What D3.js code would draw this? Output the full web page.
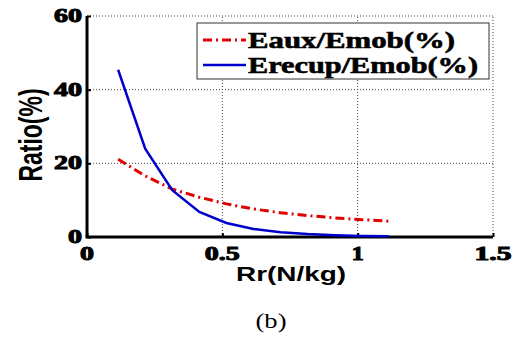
<!DOCTYPE html>
<html>
<head>
<meta charset="utf-8">
<script src="https://cdn.jsdelivr.net/npm/d3@7"></script>
<style>
  body { margin: 0; background: #fff; }
  svg { display: block; }
  .num { font-family: "Liberation Serif", "Times New Roman", serif; font-weight: bold; fill: #000; stroke: #000; stroke-width: 1px; }
  .leg { font-family: "Liberation Serif", "Times New Roman", serif; font-weight: bold; fill: #000; stroke: #000; stroke-width: 0.6px; }
  .sans { font-family: "Liberation Sans", Arial, sans-serif; font-weight: bold; fill: #000; }
</style>
</head>
<body>
<svg id="chart"></svg>
<script>
/* données */
const rr = [0.115, 0.215, 0.315, 0.415, 0.515, 0.615, 0.715, 0.815, 0.915, 1.015, 1.115]
const eaux = [21.1, 16.6, 13.0, 10.8, 9.0, 7.6, 6.6, 5.8, 5.2, 4.7, 4.3]
const erecup = [45.4, 24.0, 12.7, 6.8, 3.8, 2.2, 1.3, 0.8, 0.5, 0.3, 0.2]

const xTicks = [0, 0.5, 1, 1.5]
const xTickLabels = ['0', '0.5', '1', '1.5']
const yTicks = [0, 20, 40, 60]
const yTickLabels = ['0', '20', '40', '60']
const seriesNames = ['Eaux/Emob(%)', 'Erecup/Emob(%)']

const width = 521, height = 338
const margin = {top: 16, right: 28, bottom: 101, left: 87}
const stretch = 1.45   // la figure d'origine est étirée en largeur

const svg = d3.select('#chart').attr('width', width).attr('height', height)

const xScale = d3.scaleLinear().domain([0, 1.5]).range([margin.left, width - margin.right])
const yScale = d3.scaleLinear().domain([0, 60]).range([height - margin.bottom, margin.top])

/* grille pointillée */
const grid = svg.append('g').attr('stroke', '#444').attr('stroke-width', 1).attr('stroke-dasharray', '1,2')
grid.selectAll('.vx').data(xTicks.filter(d => d > 0)).enter().append('line')
    .attr('x1', d => xScale(d)).attr('x2', d => xScale(d))
    .attr('y1', yScale(0)).attr('y2', yScale(60))
grid.selectAll('.hy').data(yTicks.filter(d => d > 0)).enter().append('line')
    .attr('x1', xScale(0)).attr('x2', xScale(1.5))
    .attr('y1', d => yScale(d)).attr('y2', d => yScale(d))

/* axes */
const xAxis = d3.axisBottom(xScale).tickValues(xTicks).tickSize(-4).tickFormat('')
const yAxis = d3.axisLeft(yScale).tickValues(yTicks).tickSize(-4).tickFormat('')

svg.append('g').attr('transform', 'translate(0,' + yScale(0) + ')').call(xAxis)
   .call(g => g.select('.domain').attr('stroke', '#000').attr('stroke-width', 3).attr('d', 'M' + (xScale(0) - 1.5) + ',0H' + xScale(1.5)))
   .call(g => g.selectAll('.tick line').attr('stroke', '#000').attr('stroke-width', 2))
svg.append('g').attr('transform', 'translate(' + xScale(0) + ',0)').call(yAxis)
   .call(g => g.select('.domain').attr('stroke', '#000').attr('stroke-width', 3).attr('d', 'M0,' + yScale(0) + 'V' + yScale(60)))
   .call(g => g.selectAll('.tick line').attr('stroke', '#000').attr('stroke-width', 2))

/* étiquettes des graduations */
const xLabLen = [14, 35, 12, 37]
svg.append('g').selectAll('text').data(xTicks).enter().append('text')
   .attr('class', 'num')
   .attr('x', d => xScale(d)).attr('y', yScale(0) + 23)
   .attr('text-anchor', 'middle')
   .attr('font-size', 19)
   .attr('textLength', (d, i) => xLabLen[i]).attr('lengthAdjust', 'spacingAndGlyphs')
   .text((d, i) => xTickLabels[i])

const yLabLen = [14, 28, 28, 28]
svg.append('g').selectAll('text').data(yTicks).enter().append('text')
   .attr('class', 'num')
   .attr('x', (d, i) => xScale(0) - 5 - yLabLen[i]).attr('y', d => yScale(d) + 6)
   .attr('font-size', 19)
   .attr('textLength', (d, i) => yLabLen[i]).attr('lengthAdjust', 'spacingAndGlyphs')
   .text((d, i) => yTickLabels[i])

/* titres des axes */
svg.append('text')
   .attr('class', 'sans')
   .attr('x', 291).attr('y', 281)
   .attr('text-anchor', 'middle')
   .attr('font-size', 21)
   .attr('textLength', 110).attr('lengthAdjust', 'spacingAndGlyphs')
   .text('Rr(N/kg)')

svg.append('text')
   .attr('class', 'sans')
   .attr('transform', 'translate(42,135) scale(' + stretch + ',1) rotate(-90)')
   .attr('text-anchor', 'middle')
   .attr('font-size', 23)
   .text('Ratio(%)')

/* courbes */
const line = d3.line().x((d, i) => xScale(rr[i])).y(d => yScale(d))

svg.append('path').datum(eaux)
   .attr('fill', 'none').attr('stroke', '#e00000').attr('stroke-width', 3)
   .attr('stroke-dasharray', '9,4,2,4')
   .attr('d', line)

svg.append('path').datum(erecup)
   .attr('fill', 'none').attr('stroke', '#0000cc').attr('stroke-width', 2.5)
   .attr('d', line)

/* légende */
const legend = svg.append('g')
legend.append('rect')
      .attr('x', 197).attr('y', 23).attr('width', 292).attr('height', 56)
      .attr('fill', '#fff').attr('stroke', '#333').attr('stroke-width', 1)

const legStyles = [
  {color: '#e00000', dash: '9,4,2,4', width: 3, len: 207},
  {color: '#0000cc', dash: null, width: 2.5, len: 230}
]
seriesNames.forEach((name, i) => {
  const y = 40 + i * 25
  legend.append('line')
        .attr('x1', 203).attr('x2', 246).attr('y1', y).attr('y2', y)
        .attr('stroke', legStyles[i].color).attr('stroke-width', legStyles[i].width)
        .attr('stroke-dasharray', legStyles[i].dash)
  legend.append('text')
        .attr('class', 'leg')
        .attr('x', 248).attr('y', y + 8)
        .attr('font-size', 23)
        .attr('textLength', legStyles[i].len).attr('lengthAdjust', 'spacingAndGlyphs')
        .text(name)
})

/* légende de la sous-figure */
svg.append('text')
   .attr('x', 271).attr('y', 328)
   .attr('text-anchor', 'middle')
   .attr('font-family', '"Liberation Serif", serif').attr('font-size', 22)
   .attr('textLength', 31).attr('lengthAdjust', 'spacingAndGlyphs')
   .text('(b)')
</script>
</body>
</html>
